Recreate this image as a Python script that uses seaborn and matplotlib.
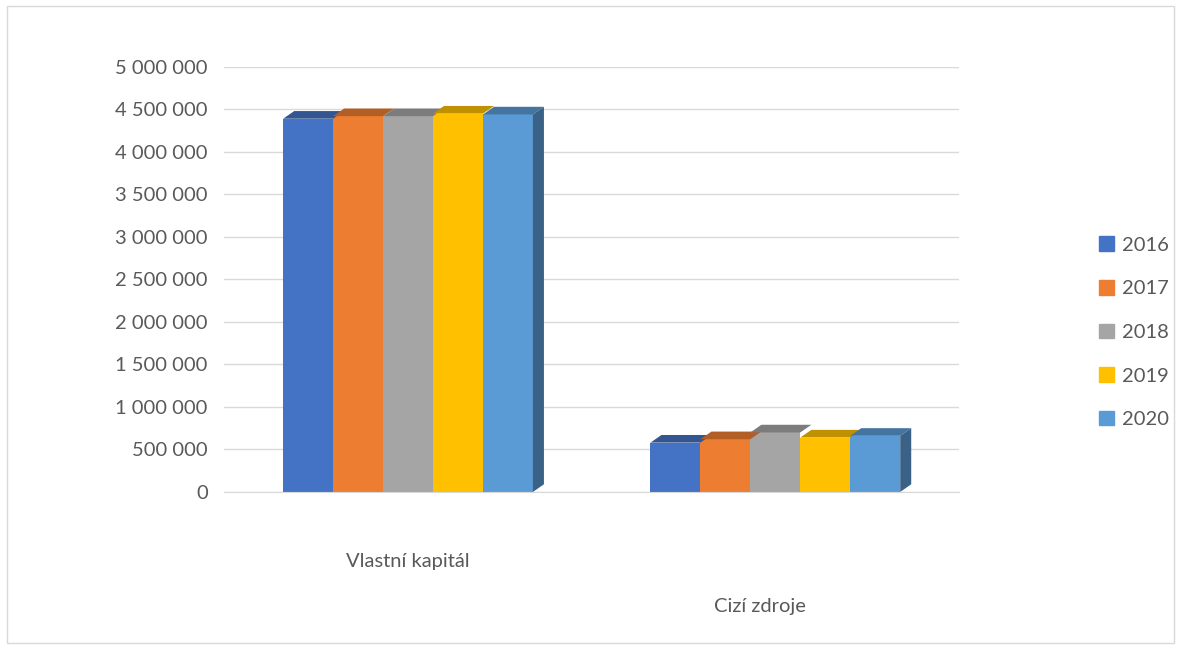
import matplotlib.pyplot as plt
import matplotlib.colors as mcolors
from matplotlib.patches import Polygon, Rectangle
from matplotlib.ticker import FuncFormatter
from matplotlib.transforms import ScaledTranslation
import pandas as pd
import seaborn as sns

# data
categories = ['Vlastní kapitál', 'Cizí zdroje']
years = ['2016', '2017', '2018', '2019', '2020']
vlastni = [4390000, 4420000, 4420000, 4450000, 4440000]
cizi = [580000, 620000, 700000, 640000, 660000]
colors = ['#4472C4', '#ED7D31', '#A5A5A5', '#FFC000', '#5B9BD5']

rows = []
for i, y in enumerate(years):
    rows.append({'cat': categories[0], 'year': y, 'val': vlastni[i]})
    rows.append({'cat': categories[1], 'year': y, 'val': cizi[i]})
df = pd.DataFrame(rows)

sns.set_style('white')
plt.rcParams['font.family'] = ['Lato', 'DejaVu Sans']

fig = plt.figure(figsize=(11.81, 6.49), dpi=100)
ax = fig.add_axes([0.19, 0.242, 0.622, 0.655])

sns.barplot(data=df, x='cat', y='val', hue='year', order=categories,
            hue_order=years, palette=colors, width=0.68, saturation=1,
            edgecolor='none', ax=ax, legend=False)

ax.set_ylim(0, 5000000)
ax.set_xlim(-0.5, 1.5)
ax.set_yticks(range(0, 5000001, 500000))
ax.yaxis.set_major_formatter(FuncFormatter(lambda v, p: f'{v:,.0f}'.replace(',', ' ')))
ax.grid(axis='y', color='#D9D9D9', linewidth=1)
ax.set_axisbelow(True)
for s in ax.spines.values():
    s.set_visible(False)
ax.spines['bottom'].set_visible(True)
ax.spines['bottom'].set_color('#D9D9D9')
ax.tick_params(axis='y', length=0, pad=12, labelsize=14.5, labelcolor='#595959')
ax.tick_params(axis='x', length=0, pad=44, labelsize=14.5, labelcolor='#595959')
ax.set_xlabel('')
ax.set_ylabel('')
# second category label sits lower in the original (perspective)
lab = ax.get_xticklabels()[1]
lab.set_transform(lab.get_transform() + ScaledTranslation(-0.15, -0.45, fig.dpi_scale_trans))

# fake 3D: darker top face on every bar, side face on last bar of group
dx = 0.03
dy = 90000
bars = list(ax.patches)
n_cat = len(categories)
for j, p in enumerate(bars):
    x0 = p.get_x()
    w = p.get_width()
    h = p.get_height()
    c = mcolors.to_rgb(p.get_facecolor())
    dark = tuple(v * 0.75 for v in c)
    top = Polygon([(x0, h), (x0 + w, h), (x0 + w + dx, h + dy), (x0 + dx, h + dy)],
                  closed=True, facecolor=dark, edgecolor='none', zorder=3)
    ax.add_patch(top)
    if j >= len(bars) - n_cat:
        side = Polygon([(x0 + w, 0), (x0 + w + dx, dy), (x0 + w + dx, h + dy), (x0 + w, h)],
                       closed=True, facecolor='#3A6186', edgecolor='none', zorder=3)
        ax.add_patch(side)

handles = [Rectangle((0, 0), 1, 1, color=c) for c in colors]
fig.legend(handles, years, loc='center left', bbox_to_anchor=(0.915, 0.488),
           frameon=False, fontsize=14.5, labelcolor='#595959',
           handlelength=0.75, handleheight=0.75, handletextpad=0.4,
           labelspacing=1.3)

fig.patches.append(Rectangle((0.006, 0.01), 0.988, 0.98, transform=fig.transFigure,
                             fill=False, edgecolor='#D9D9D9', linewidth=1))

plt.savefig('out.png', dpi=100)
